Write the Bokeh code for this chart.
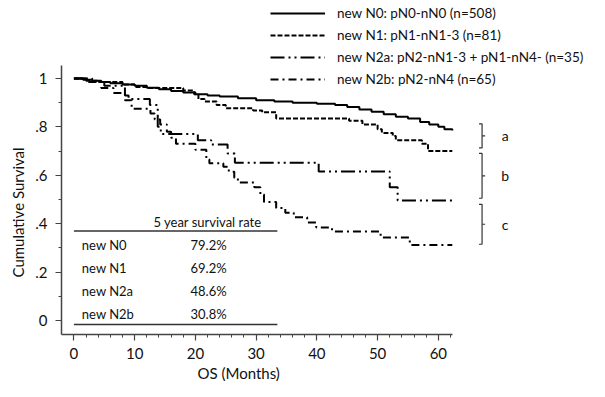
from bokeh.plotting import figure
from bokeh.models import (Range1d, FixedTicker, CustomJSTickFormatter, Legend,
                          LegendItem, ColumnDataSource, Title)
from bokeh.core.properties import value
from bokeh.embed import file_html
from bokeh.resources import INLINE

FONT = "Lato"

# Kaplan-Meier step data (months, cumulative survival)
t_n0 = [0, 1.5, 3, 4.5, 6, 8, 10, 12, 14, 16, 18, 20, 22, 24, 27, 30, 33, 36, 40, 43,
        45, 47, 49, 51, 53, 55, 57, 58.5, 60, 61, 62.3]
s_n0 = [1, .995, .99, .985, .98, .975, .97, .962, .955, .948, .942, .935, .93, .925, .918,
        .91, .905, .9, .895, .89, .882, .872, .862, .852, .842, .835, .82, .81, .80, .79, .785]

t_n1 = [0, 2, 4, 8, 10, 12, 18, 19.8, 20.5, 21.5, 23.5, 25, 29.5, 31, 33.3, 45.3, 47.5,
        50, 50.7, 52.5, 53, 57.3, 58.3, 62.3]
s_n1 = [1, .99, .985, .975, .965, .96, .95, .935, .915, .905, .89, .877, .868, .86, .835,
        .825, .81, .79, .775, .762, .745, .73, .70, .70]

t_n2a = [0, 3, 5, 8.4, 9, 12.5, 13.8, 14.3, 20.4, 22.6, 25.3, 26.5, 40.3, 52, 53.3, 62.3]
s_n2a = [1, .985, .97, .93, .915, .89, .80, .77, .745, .727, .69, .652, .616, .55, .496, .496]

t_n2b = [0, 2, 4.5, 6.5, 8.4, 9.5, 12.6, 13.3, 14.2, 15.3, 16, 16.8, 20, 21.8, 22.3, 24.6,
         25.5, 26.4, 27, 29.7, 30.7, 31.3, 33.3, 34.8, 36.2, 38.4, 39.9, 42.5, 50.5, 55.3, 62.3]
s_n2b = [1, .985, .96, .94, .91, .875, .855, .83, .81, .78, .755, .73, .705, .665, .65, .635,
         .615, .59, .57, .55, .52, .49, .465, .445, .426, .405, .384, .368, .343, .312, .312]

legend_labels = ["new N0: pN0-nN0 (n=508)",
                 "new N1: pN1-nN1-3 (n=81)",
                 "new N2a: pN2-nN1-3 + pN1-nN4- (n=35)",
                 "new N2b: pN2-nN4 (n=65)"]
line_dashes = ["solid", "5 2", "14 4 2 4 2 4", "8 4 2 4"]

groups = ["new N0", "new N1", "new N2a", "new N2b"]
rates = ["79.2%", "69.2%", "48.6%", "30.8%"]
table_title = "5 year survival rate"

bracket_labels = ["a", "b", "c"]
bracket_top = [0.812, 0.69, 0.48]
bracket_bottom = [0.713, 0.505, 0.315]

x_ticks = [0, 10, 20, 30, 40, 50, 60]
x_minor = [2, 4, 6, 8, 12, 14, 16, 18, 22, 24, 26, 28, 32, 34, 36, 38, 42, 44, 46, 48,
           52, 54, 56, 58, 62]
y_ticks = [0, 0.2, 0.4, 0.6, 0.8, 1]
y_minor = [0.1, 0.3, 0.5, 0.7, 0.9]
x_title = "OS (Months)"
y_title = "Cumulative Survival"

X0, X1 = -2.047, 84.89
Y0, Y1 = -0.0579, 1.322

p = figure(width=589, height=381, x_range=Range1d(X0, X1), y_range=Range1d(Y0, Y1),
           output_backend="svg", toolbar_location=None,
           min_border_left=58, min_border_right=0, min_border_top=0, min_border_bottom=47)
p.grid.visible = False
p.outline_line_color = None
p.background_fill_color = "white"

renderers = []
for t, s, dash in zip([t_n0, t_n1, t_n2a, t_n2b], [s_n0, s_n1, s_n2a, s_n2b], line_dashes):
    r = p.step(x=t, y=s, mode="after", line_color="black", line_width=2, line_dash=dash)
    renderers.append(r)

legend = Legend(items=[LegendItem(label=lab, renderers=[r]) for lab, r in zip(legend_labels, renderers)],
                location=(209, 244), glyph_width=55, glyph_height=22, label_height=22,
                spacing=0, padding=0, margin=0, label_standoff=12,
                border_line_color=None, background_fill_alpha=0,
                label_text_font=FONT, label_text_font_size="13.5px", label_text_color="#111")
p.add_layout(legend)

# 5-year survival table
row_y = [0.31 - 0.095 * i for i in range(len(groups))]
tab = ColumnDataSource(dict(g=groups, r=rates, y=row_y, xg=[1.3] * len(groups), xr=[19.2] * len(groups)))
p.text(x="xg", y="y", text="g", source=tab, text_font=value(FONT), text_font_size="13px",
       text_baseline="middle", text_color="#111")
p.text(x="xr", y="y", text="r", source=tab, text_font=value(FONT), text_font_size="13px",
       text_baseline="middle", text_color="#111")
p.text(x=[22], y=[0.405], text=[table_title], text_font=value(FONT), text_font_size="13px",
       text_baseline="middle", text_align="center", text_color="#111")
p.segment(x0=[0, 0], y0=[0.37, -0.017], x1=[33.5, 33.5], y1=[0.37, -0.017],
          line_color="#333", line_width=1.5)

# brackets
bxs, bys = [], []
for top, bot in zip(bracket_top, bracket_bottom):
    mid = (top + bot) / 2
    bxs.append([66.7, 67.2, 67.2, 66.7])
    bys.append([top, top, bot, bot])
    bxs.append([67.2, 67.7])
    bys.append([mid, mid])
p.multi_line(xs=bxs, ys=bys, line_color="#333", line_width=1.2)
p.text(x=[71.0] * 3, y=[(a + b) / 2 for a, b in zip(bracket_top, bracket_bottom)], text=bracket_labels,
       text_font=value(FONT), text_font_size="14px", text_align="center", text_baseline="middle",
       text_color="#111")

# axes
for ax in (p.xaxis[0], p.yaxis[0]):
    ax.axis_line_color = "#444"
    ax.axis_line_width = 1.5
    ax.major_tick_line_color = "#444"
    ax.minor_tick_line_color = "#444"
    ax.major_tick_line_width = 1.2
    ax.minor_tick_line_width = 1
    ax.major_tick_out = 6
    ax.major_tick_in = 0
    ax.minor_tick_out = 3
    ax.minor_tick_in = 0
    ax.major_label_text_font = FONT
    ax.major_label_text_font_size = "15px"
    ax.major_label_text_color = "#111"

p.xaxis.ticker = FixedTicker(ticks=x_ticks, minor_ticks=x_minor)
p.xaxis.bounds = (X0, 62.3)
p.xaxis.major_label_standoff = 7

p.yaxis.ticker = FixedTicker(ticks=y_ticks, minor_ticks=y_minor)
p.yaxis.bounds = (Y0, 1.054)
p.yaxis.formatter = CustomJSTickFormatter(
    code="if (tick == 0) return '0'; if (tick == 1) return '1'; return tick.toFixed(1).replace(/^0/, '');")
p.yaxis.major_label_standoff = 8

# axis titles, placed off-centre like the original
p.add_layout(Title(text=x_title, align="left", offset=136, standoff=0,
                   text_font=FONT, text_font_size="15px", text_font_style="normal",
                   text_color="#111"), "below")
p.add_layout(Title(text=y_title, align="left", offset=57, standoff=12,
                   text_font=FONT, text_font_size="15px", text_font_style="normal",
                   text_color="#111"), "left")

open("out.html", "w").write(file_html(p, INLINE))
